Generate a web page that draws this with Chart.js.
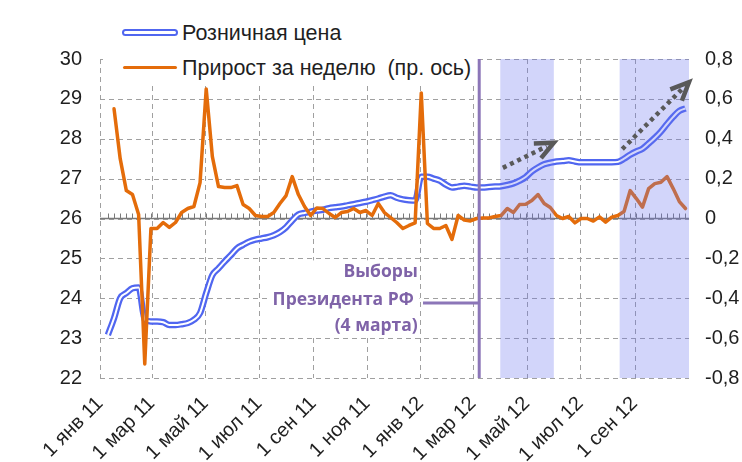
<!DOCTYPE html>
<html lang="ru">
<head>
<meta charset="utf-8">
<title>Розничная цена и прирост за неделю</title>
<script src="https://cdn.jsdelivr.net/npm/chart.js@4.4.1/dist/chart.umd.min.js"></script>
<style>
    html, body { margin: 0; padding: 0; background: #fff; }
    #wrap { position: relative; width: 742px; height: 462px; overflow: hidden; }
    #chart { position: absolute; left: 0; top: 0; }
    .legend-box { position: absolute; left: 103px; top: 10px; width: 373px; height: 72px; background: #fff; }
    .legend-text { position: absolute; left: 182px; font: 21.5px "Liberation Sans", Arial, sans-serif; line-height: 24px; color: #1f1f1f; white-space: pre; }
    .sym-double { position: absolute; left: 122px; top: 29px; width: 56px; height: 7px; box-sizing: border-box; border: 2px solid #5066f0; border-radius: 4px; background: #fff; }
    .sym-line { position: absolute; left: 123px; top: 65.5px; width: 54px; height: 3.5px; border-radius: 2px; background: #e46c0a; }
</style>
</head>
<body>
<div id="wrap">
    <canvas id="chart" width="742" height="462"></canvas>
    <div class="legend-box"></div>
    <div class="sym-double"></div>
    <div class="legend-text" id="legendPrice" style="top:21px"></div>
    <div class="sym-line"></div>
    <div class="legend-text" id="legendGrowth" style="top:55.5px"></div>
</div>
<script>
// Weekly data, first week = 10 янв 2011 (day 9 counted from 1 янв 2011)
const firstWeekDay = 9;

const priceName = "Розничная цена";
const growthName = "Прирост за неделю  (пр. ось)";

// Retail price, left axis
const priceValues = [
    23.08, 23.5, 24.0, 24.13, 24.25, 24.27, 23.46, 23.42, 23.42, 23.4,
    23.33, 23.33, 23.35, 23.38, 23.46, 23.63, 24.13, 24.58, 24.75, 24.92,
    25.08, 25.25, 25.34, 25.42, 25.47, 25.5, 25.53, 25.58, 25.66, 25.78,
    25.95, 26.1, 26.14, 26.17, 26.2, 26.22, 26.26, 26.28, 26.3, 26.33,
    26.36, 26.39, 26.42, 26.46, 26.5, 26.55, 26.58, 26.52, 26.48, 26.46,
    26.45, 27.05, 27.05, 27.0, 26.95, 26.85, 26.78, 26.8, 26.82, 26.8,
    26.78, 26.78, 26.79, 26.8, 26.81, 26.84, 26.88, 26.95, 27.04, 27.18,
    27.28, 27.36, 27.4, 27.43, 27.44, 27.46, 27.43, 27.41, 27.41, 27.41,
    27.41, 27.41, 27.41, 27.42, 27.5, 27.6, 27.68, 27.75, 27.88, 28.02,
    28.18, 28.37, 28.55, 28.7, 28.76
];

// Weekly growth, right axis
const growthValues = [
    null, 0.55, 0.30, 0.14, 0.12, 0.02, -0.73, -0.05, -0.05, -0.02,
    -0.045, -0.02, 0.03, 0.05, 0.06, 0.18, 0.65, 0.31, 0.16, 0.155,
    0.155, 0.165, 0.07, 0.05, 0.015, 0.01, 0.01, 0.03, 0.075, 0.115,
    0.21, 0.12, 0.06, 0.015, 0.053, 0.05, 0.025, 0.005, 0.03, 0.035,
    0.05, 0.03, 0.04, 0.015, 0.075, 0.03, 0.005, -0.02, -0.05, -0.035,
    -0.022, 0.63, -0.025, -0.05, -0.05, -0.035, -0.105, 0.015, -0.008, -0.012,
    0.0, 0.003, 0.003, 0.01, 0.015, 0.05, 0.03, 0.07, 0.072, 0.09,
    0.12, 0.075, 0.055, 0.015, 0.0, 0.01, -0.022, 0.0, 0.0, -0.013,
    0.008, -0.018, 0.007, 0.015, 0.035, 0.14, 0.1, 0.057, 0.15, 0.175,
    0.182, 0.21, 0.15, 0.085, 0.05
];

// X axis: days from 1 янв 2011
const tickDays = [0, 59, 120, 181, 243, 304, 365, 425, 486, 547, 609];
const tickLabels = ["1 янв 11", "1 мар 11", "1 май 11", "1 июл 11", "1 сен 11", "1 ноя 11",
    "1 янв 12", "1 мар 12", "1 май 12", "1 июл 12", "1 сен 12"];
const leftTicks = [22, 23, 24, 25, 26, 27, 28, 29, 30];
const rightTicks = [-0.8, -0.6, -0.4, -0.2, 0, 0.2, 0.4, 0.6, 0.8];
const rightTickLabels = ["-0,8", "-0,6", "-0,4", "-0,2", "0", "0,2", "0,4", "0,6", "0,8"];

// Annotations (days / left-axis values)
const shadedPeriods = [[456, 517], [592, 671]];
const electionDay = 432;
const electionText = ["Выборы", "Президента РФ", "(4 марта)"];
const arrows = [
    { from: [459, 27.27], to: [517, 27.9] },
    { from: [595, 27.74], to: [671, 29.42] }
];

const weekDays = priceValues.map( ( v, i ) => firstWeekDay + 7 * i );

document.getElementById( "legendPrice" ).textContent = priceName;
document.getElementById( "legendGrowth" ).textContent = growthName;

const fontFamily = "\"Liberation Sans\", Arial, sans-serif";
const gridColor = "#a0a0a0";
const purple = "#8c76b8";

const annotations = {
    id: "annotations",
    beforeDatasetsDraw( chart ) {
        const { ctx, chartArea: a, scales: { x, y, y1 } } = chart;
        ctx.save();

        // dashed grid
        ctx.strokeStyle = gridColor;
        ctx.lineWidth = 1;
        ctx.setLineDash( [5, 4] );
        ctx.beginPath();
        tickDays.forEach( d => {
            const px = Math.round( x.getPixelForValue( d ) ) + 0.5;
            ctx.moveTo( px, a.top );
            ctx.lineTo( px, a.bottom );
        } );
        leftTicks.forEach( v => {
            const py = Math.round( y.getPixelForValue( v ) ) + 0.5;
            ctx.moveTo( a.left, py );
            ctx.lineTo( a.right, py );
        } );
        ctx.stroke();
        ctx.setLineDash( [] );

        // white box behind the election note
        ctx.fillStyle = "#fff";
        const bx = x.getPixelForValue( 192 ), bxr = x.getPixelForValue( 364 );
        const by = y.getPixelForValue( 24.95 ), byb = y.getPixelForValue( 23.07 );
        ctx.fillRect( bx, by, bxr - bx, byb - by );

        // zero line of the right axis with weekly tick marks
        const y0 = y1.getPixelForValue( 0 );
        ctx.strokeStyle = "#7a7a7a";
        ctx.lineWidth = 1.5;
        ctx.beginPath();
        ctx.moveTo( a.left, y0 );
        ctx.lineTo( a.right, y0 );
        ctx.stroke();
        ctx.lineWidth = 1;
        ctx.beginPath();
        weekDays.forEach( d => {
            const px = Math.round( x.getPixelForValue( d ) ) + 0.5;
            ctx.moveTo( px, y0 );
            ctx.lineTo( px, y0 - 5 );
        } );
        ctx.stroke();
        ctx.restore();
    },
    afterDatasetsDraw( chart ) {
        const { ctx, chartArea: a, scales: { x, y } } = chart;
        ctx.save();

        // shaded periods
        ctx.fillStyle = "rgba(105, 115, 240, 0.3)";
        shadedPeriods.forEach( p => {
            const x0 = x.getPixelForValue( p[0] );
            const x1 = x.getPixelForValue( p[1] );
            ctx.fillRect( x0, a.top, x1 - x0, a.bottom - a.top );
        } );

        // election line and connector
        const ex = x.getPixelForValue( electionDay );
        ctx.strokeStyle = purple;
        ctx.lineWidth = 3;
        ctx.beginPath();
        ctx.moveTo( ex, a.top );
        ctx.lineTo( ex, a.bottom );
        const cy = y.getPixelForValue( 23.88 );
        ctx.moveTo( x.getPixelForValue( 368 ), cy );
        ctx.lineTo( ex, cy );
        ctx.stroke();

        // election text
        ctx.fillStyle = "#7f63a8";
        ctx.font = "bold 17.5px \"Open Sans\", sans-serif";
        ctx.textAlign = "right";
        ctx.textBaseline = "middle";
        const tx = x.getPixelForValue( 362 );
        [24.66, 23.96, 23.31].forEach( ( v, i ) => {
            ctx.fillText( electionText[i], tx - ( i === 1 ? 4 : 0 ), y.getPixelForValue( v ) );
        } );

        // dotted trend arrows
        ctx.strokeStyle = "#595959";
        ctx.lineWidth = 4.5;
        arrows.forEach( ar => {
            const x0 = x.getPixelForValue( ar.from[0] ), y0 = y.getPixelForValue( ar.from[1] );
            const x1 = x.getPixelForValue( ar.to[0] ), y1p = y.getPixelForValue( ar.to[1] );
            const ang = Math.atan2( y1p - y0, x1 - x0 );
            ctx.setLineDash( [4, 4] );
            ctx.lineCap = "butt";
            ctx.beginPath();
            ctx.moveTo( x0, y0 );
            ctx.lineTo( x1 - 8 * Math.cos( ang ), y1p - 8 * Math.sin( ang ) );
            ctx.stroke();
            ctx.setLineDash( [] );
            ctx.lineJoin = "miter";
            ctx.beginPath();
            ctx.moveTo( x1 + 20 * Math.cos( ang + Math.PI - 0.42 ), y1p + 20 * Math.sin( ang + Math.PI - 0.42 ) );
            ctx.lineTo( x1, y1p );
            ctx.lineTo( x1 + 20 * Math.cos( ang + Math.PI + 0.42 ), y1p + 20 * Math.sin( ang + Math.PI + 0.42 ) );
            ctx.stroke();
        } );
        ctx.restore();
    }
};

const pricePoints = priceValues.map( ( v, i ) => ( { x: weekDays[i], y: v } ) );
const growthPoints = growthValues.map( ( v, i ) => ( { x: weekDays[i], y: v } ) );

new Chart( document.getElementById( "chart" ), {
    type: "line",
    data: {
        datasets: [
            {
                label: growthName,
                data: growthPoints,
                yAxisID: "y1",
                borderColor: "#e46c0a",
                borderWidth: 3.5,
                borderJoinStyle: "round",
                borderCapStyle: "round",
                pointRadius: 0,
                tension: 0,
                order: 1
            },
            {
                label: priceName,
                data: pricePoints,
                yAxisID: "y",
                borderColor: "#ffffff",
                borderWidth: 2,
                pointRadius: 0,
                cubicInterpolationMode: "monotone",
                order: 2
            },
            {
                label: priceName,
                data: pricePoints,
                yAxisID: "y",
                borderColor: "#5066f0",
                borderWidth: 6.5,
                pointRadius: 0,
                cubicInterpolationMode: "monotone",
                order: 3
            }
        ]
    },
    options: {
        responsive: false,
        animation: false,
        devicePixelRatio: 1,
        layout: { padding: { top: 59, left: 0, right: 0, bottom: 0 } },
        plugins: {
            legend: { display: false },
            tooltip: { enabled: false }
        },
        scales: {
            x: {
                type: "linear",
                min: 0,
                max: 671,
                afterBuildTicks: s => { s.ticks = tickDays.map( v => ( { value: v } ) ); },
                afterFit: s => { s.height = 84; },
                ticks: {
                    autoSkip: false,
                    minRotation: 45,
                    maxRotation: 45,
                    padding: 14,
                    color: "#1f1f1f",
                    font: { family: fontFamily, size: 20 },
                    callback: ( v, i ) => tickLabels[i]
                },
                grid: { display: false, drawTicks: false },
                border: { display: false }
            },
            y: {
                position: "left",
                min: 22,
                max: 30,
                afterBuildTicks: s => { s.ticks = leftTicks.map( v => ( { value: v } ) ); },
                afterFit: s => { s.width = 100; },
                ticks: {
                    padding: 18,
                    color: "#1f1f1f",
                    font: { family: fontFamily, size: 20 }
                },
                grid: { display: false, drawTicks: false },
                border: { display: false }
            },
            y1: {
                position: "right",
                min: -0.8,
                max: 0.8,
                afterBuildTicks: s => { s.ticks = rightTicks.map( v => ( { value: v } ) ); },
                afterFit: s => { s.width = 53; },
                ticks: {
                    padding: 16,
                    color: "#1f1f1f",
                    font: { family: fontFamily, size: 20 },
                    callback: ( v, i ) => rightTickLabels[i]
                },
                grid: { display: false, drawTicks: false },
                border: { display: false }
            }
        }
    },
    plugins: [annotations]
} );
</script>
</body>
</html>
